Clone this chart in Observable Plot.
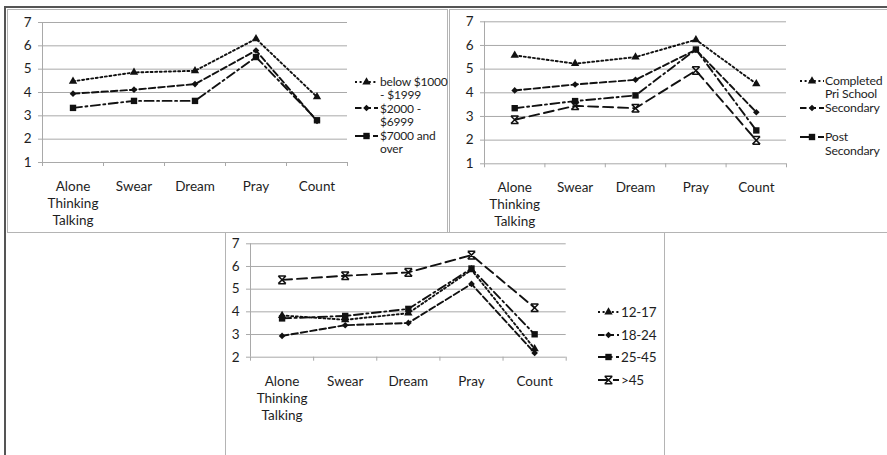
<!DOCTYPE html>
<html><head><meta charset="utf-8">
<script src="https://cdn.jsdelivr.net/npm/d3@7"></script>
<script src="https://cdn.jsdelivr.net/npm/@observablehq/plot@0.6"></script>
<style>
body{margin:0;background:#fff;font-family:Lato,"Open Sans",sans-serif;}
#root{position:relative;width:887px;height:455px;overflow:hidden;background:#fff;}
.abs{position:absolute;}
.frame{position:absolute;box-sizing:border-box;border:1px solid #b4b4b4;}
.legtext{position:absolute;color:#1e1e1e;white-space:pre-line;letter-spacing:-0.2px;}
</style></head><body><div id="root"></div>
<script>
// ---- data ----
const categories = ["Alone\nThinking\nTalking", "Swear", "Dream", "Pray", "Count"];
const yTicksTop = [1, 2, 3, 4, 5, 6, 7];
const yTicksBottom = [2, 3, 4, 5, 6, 7];

const incomeLabels = ["below $1000\n- $1999", "$2000 -\n$6999", "$7000 and\nover"];
const incomeLow = [4.48, 4.86, 4.93, 6.30, 3.81];
const incomeMid = [3.95, 4.12, 4.36, 5.80, 2.78];
const incomeHigh = [3.34, 3.64, 3.64, 5.52, 2.81];

const eduLabels = ["Completed\nPri School", "Secondary", "Post\nSecondary"];
const eduPrimary = [5.58, 5.23, 5.51, 6.24, 4.38];
const eduSecondary = [4.10, 4.35, 4.55, 5.82, 3.18];
const eduPost = [3.35, 3.65, 3.89, 5.83, 2.41];
const eduOther = [2.86, 3.45, 3.35, 4.94, 1.99];

const ageLabels = ["12-17", "18-24", "25-45", ">45"];
const age12 = [3.84, 3.65, 3.94, 5.85, 2.37];
const age18 = [2.94, 3.41, 3.51, 5.23, 2.19];
const age25 = [3.71, 3.82, 4.13, 5.91, 3.01];
const age45 = [5.41, 5.59, 5.74, 6.50, 4.18];

// ---- styles ----
const xBar = {draw(ctx, size) {
  const s = Math.sqrt(size / Math.PI) * 0.9;
  ctx.moveTo(-s, -s); ctx.lineTo(s, s);
  ctx.moveTo(-s, s); ctx.lineTo(s, -s);
  ctx.moveTo(-s, -s); ctx.lineTo(s, -s);
  ctx.moveTo(-s, s); ctx.lineTo(s, s);
}};
const styles = [
  {dash: "2,2.6", symbol: d3.symbolTriangle, r: 3.1, filled: true},
  {dash: "6.5,3", symbol: d3.symbolDiamond2, r: 3.0, filled: true},
  {dash: "9,3.5,2,3.5", symbol: d3.symbolSquare, r: 3.6, filled: true},
  {dash: "10,5", symbol: xBar, r: 4.2, filled: false}
];
const INK = "#111";
const GRID = "#a9a9a9";
const TXT = "#1e1e1e";
const root = document.getElementById("root");

function add(el, css) { Object.assign(el.style, css); root.appendChild(el); return el; }
function div(cls, css) { const d = document.createElement("div"); d.className = cls; return add(d, css); }

// frames
div("abs", {left: "4px", top: "6px", width: "1.5px", height: "449px", background: "#555"});
div("abs", {left: "4px", top: "6px", width: "883px", height: "1.5px", background: "#555"});
div("frame", {left: "7px", top: "9px", width: "441px", height: "224px"});
div("frame", {left: "449px", top: "9px", width: "445px", height: "224px"});
div("frame", {left: "225px", top: "232px", width: "440px", height: "230px", background: "#fff"});

function panel(cfg) {
  const yMin = cfg.yTicks[0], yMax = cfg.yTicks[cfg.yTicks.length - 1];
  const marks = [
    Plot.ruleY(cfg.yTicks, {stroke: GRID, strokeWidth: 1}),
    Plot.axisY({ticks: cfg.yTicks, tickFormat: d3.format("d"), label: null, tickSize: 4, tickPadding: 7, stroke: GRID, fill: TXT, fontSize: 13.5}),
    Plot.ruleX([0], {stroke: GRID}),
    Plot.axisX({ticks: d3.range(categories.length + 1), label: null, tickSize: 4, tickFormat: () => "", stroke: GRID}),
    Plot.text(categories, {x: (d, i) => i + 0.5, frameAnchor: "bottom", dy: 16.5, lineAnchor: "top", lineHeight: 1.26, fontSize: 13.5, fill: TXT})
  ];
  cfg.series.forEach((vals, k) => {
    const st = styles[k];
    const data = vals.map((v, i) => ({i: i + 0.5, v}));
    marks.push(Plot.line(data, {x: "i", y: "v", stroke: INK, strokeWidth: 1.9, strokeDasharray: st.dash}));
    marks.push(Plot.dot(data, {x: "i", y: "v", symbol: st.symbol, r: st.r,
      fill: st.filled ? INK : "none", stroke: st.filled ? "none" : INK, strokeWidth: 1.5}));
  });
  const svg = Plot.plot({
    width: cfg.w, height: cfg.h,
    marginLeft: cfg.ml, marginRight: cfg.mr, marginTop: cfg.mt, marginBottom: cfg.mb,
    x: {domain: [0, categories.length], label: null},
    y: {domain: [yMin, yMax], label: null},
    style: {fontFamily: "Lato, sans-serif", fontSize: "13.5px", color: TXT, background: "transparent", overflow: "visible"},
    marks
  });
  add(svg, {position: "absolute", left: cfg.left + "px", top: cfg.top + "px"});

  // legend
  const L = cfg.legend;
  cfg.labels.forEach((lab, k) => {
    const st = styles[k];
    const cy = L.ys[k];
    const s = d3.select(root).append("svg")
      .style("position", "absolute").style("left", L.x + "px").style("top", (cy - 6) + "px")
      .attr("width", L.w).attr("height", 12).style("overflow", "visible");
    s.append("line").attr("x1", 0).attr("x2", L.w).attr("y1", 6).attr("y2", 6)
      .attr("stroke", INK).attr("stroke-width", 1.9).attr("stroke-dasharray", st.dash);
    s.append("path").attr("transform", `translate(${L.w / 2},6)`)
      .attr("d", d3.symbol(st.symbol, st.r * st.r * Math.PI)())
      .attr("fill", st.filled ? INK : "none").attr("stroke", st.filled ? "none" : INK).attr("stroke-width", 1.5);
    const t = div("legtext", {left: L.tx + "px", top: (cy - L.lh / 2) + "px", fontSize: L.fs + "px", lineHeight: L.lh + "px"});
    t.textContent = lab;
  });
}

panel({
  left: 0, top: 0, w: 448, h: 232, ml: 42, mr: 101, mt: 22, mb: 70,
  yTicks: yTicksTop, series: [incomeLow, incomeMid, incomeHigh], labels: incomeLabels,
  legend: {x: 355, w: 23, tx: 380, ys: [81.7, 108.3, 135.7], fs: 12, lh: 13.4}
});
panel({
  left: 448, top: 0, w: 439, h: 232, ml: 36, mr: 101, mt: 21.3, mb: 68.7,
  yTicks: yTicksTop, series: [eduPrimary, eduSecondary, eduPost, eduOther], labels: eduLabels,
  legend: {x: 800, w: 24, tx: 825, ys: [80.5, 108, 137], fs: 12.3, lh: 13.8}
});
panel({
  left: 225, top: 232, w: 440, h: 223, ml: 25, mr: 99.3, mt: 11.3, mb: 98.3,
  yTicks: yTicksBottom, series: [age12, age18, age25, age45], labels: ageLabels,
  legend: {x: 598, w: 21, tx: 621, ys: [312, 335, 357, 380], fs: 13.5, lh: 15}
});
</script></body></html>
